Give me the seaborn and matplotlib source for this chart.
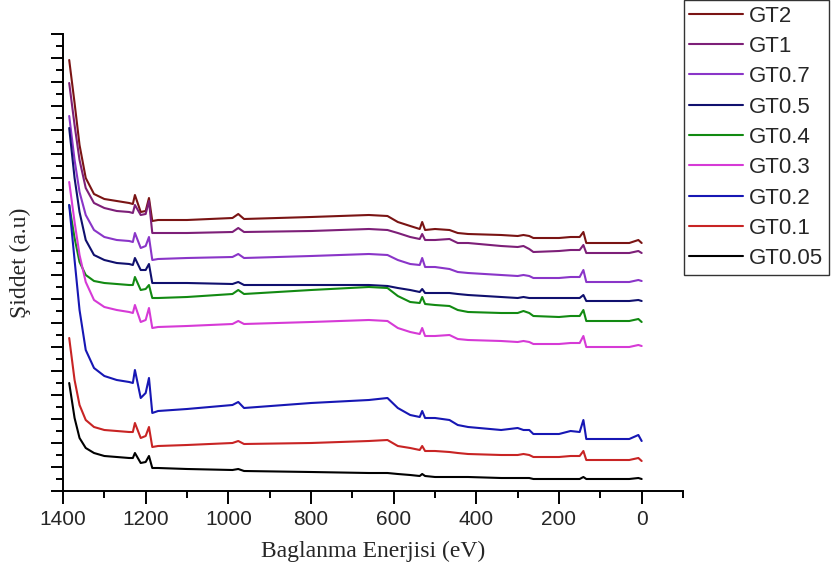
import numpy as np
import pandas as pd
import seaborn as sns
import matplotlib.pyplot as plt
from matplotlib.ticker import MultipleLocator

# binding energy grid (eV) shared by all spectra
energy = [1385, 1372, 1360, 1345, 1325, 1300, 1270, 1240, 1231, 1226,
          1212, 1200, 1192, 1184, 1170, 1100, 990, 976, 962, 800,
          660, 615, 590, 560, 537, 531, 524, 500, 465, 445,
          420, 340, 300, 286, 272, 262, 200, 172, 150, 141,
          134, 100, 30, 8, 0]

# intensities (a.u., already stacked)
gt2 = [431, 388, 346, 313, 297, 292, 290, 288, 287, 296,
       279, 280, 293, 270, 271, 271, 273, 277, 272, 274,
       276, 275, 269, 265, 262, 269, 261, 262, 261, 258,
       257, 256, 255, 256, 255, 253, 253, 254, 254, 259,
       248, 248, 248, 251, 248]
gt1 = [408, 366, 331, 303, 288, 283, 280, 279, 278, 286,
       276, 277, 290, 258, 258, 258, 259, 263, 259, 260,
       262, 261, 258, 254, 252, 257, 251, 251, 252, 248,
       248, 245, 244, 245, 242, 239, 240, 241, 241, 246,
       238, 238, 238, 240, 238]
gt07 = [375, 331, 299, 276, 261, 254, 251, 250, 249, 258,
        243, 245, 254, 231, 232, 233, 234, 237, 233, 235,
        237, 236, 231, 227, 226, 233, 224, 224, 222, 219,
        218, 216, 215, 216, 215, 213, 213, 214, 214, 221,
        209, 209, 209, 211, 210]
gt05 = [363, 313, 279, 251, 236, 231, 228, 227, 226, 233,
        221, 221, 227, 208, 208, 208, 207, 209, 206, 206,
        206, 205, 203, 201, 199, 202, 198, 198, 198, 197,
        196, 194, 193, 194, 193, 193, 193, 193, 193, 196,
        190, 190, 190, 191, 190]
gt04 = [286, 253, 229, 216, 210, 208, 207, 206, 206, 214,
        201, 202, 206, 193, 193, 194, 197, 201, 197, 201,
        204, 203, 195, 189, 188, 194, 187, 186, 185, 181,
        179, 178, 178, 180, 178, 175, 174, 175, 175, 181,
        170, 170, 170, 172, 169]
gt03 = [309, 269, 236, 209, 191, 184, 181, 179, 178, 186,
        169, 171, 183, 163, 164, 165, 167, 170, 167, 169,
        171, 170, 163, 159, 157, 163, 155, 155, 156, 152,
        151, 150, 149, 150, 149, 147, 147, 148, 148, 155,
        144, 144, 144, 146, 145]
gt02 = [286, 231, 181, 141, 123, 115, 111, 109, 108, 121,
        93, 98, 113, 78, 80, 82, 86, 89, 83, 88,
        91, 93, 83, 76, 74, 80, 73, 73, 71, 66,
        64, 61, 63, 61, 61, 57, 57, 60, 59, 71,
        52, 52, 52, 56, 50]
gt01 = [153, 111, 86, 71, 64, 61, 60, 59, 59, 68,
        53, 55, 64, 44, 45, 46, 48, 50, 47, 48,
        50, 51, 45, 43, 41, 45, 40, 40, 39, 38,
        37, 36, 36, 37, 36, 34, 34, 35, 35, 40,
        31, 31, 31, 33, 30]
gt005 = [108, 73, 53, 43, 38, 35, 34, 33, 33, 38,
         28, 29, 35, 23, 23, 22, 21, 22, 20, 19,
         18, 18, 17, 16, 15, 17, 15, 14, 14, 14,
         14, 13, 13, 13, 13, 12, 12, 12, 12, 14,
         12, 12, 12, 13, 12]

samples = ["GT2", "GT1", "GT0.7", "GT0.5", "GT0.4", "GT0.3", "GT0.2", "GT0.1", "GT0.05"]
series = [gt2, gt1, gt07, gt05, gt04, gt03, gt02, gt01, gt005]
colors = ["#7a1414", "#7d1f78", "#8a35c8", "#10106e", "#128a12",
          "#d63ad6", "#1717b4", "#c82424", "#000000"]

df = pd.concat([pd.DataFrame({"E": energy, "I": s, "sample": n})
                for n, s in zip(samples, series)], ignore_index=True)

sns.set_style("ticks")
plt.rcParams['font.family'] = ['Liberation Sans', 'DejaVu Sans']

fig = plt.figure(figsize=(8.32, 5.74), dpi=100)
ax = fig.add_axes([63/832, 1-491/574, 620/832, 457/574])

sns.lineplot(data=df, x="E", y="I", hue="sample", hue_order=samples,
             palette=dict(zip(samples, colors)), linewidth=1.5, ax=ax, sort=False)

ax.set_xlim(1400, -100)
ax.set_ylim(0, 457)
ax.xaxis.set_major_locator(MultipleLocator(200))
ax.xaxis.set_minor_locator(MultipleLocator(100))
ax.yaxis.set_major_locator(MultipleLocator(24.05))
ax.yaxis.set_minor_locator(MultipleLocator(12.025))
ax.tick_params(axis='both', which='major', direction='out', length=9, width=1.4, color='black')
ax.tick_params(axis='both', which='minor', direction='out', length=5, width=1.4, color='black')
ax.tick_params(axis='x', labelsize=15, pad=5)
ax.tick_params(axis='y', labelleft=False)
for sp in ax.spines.values():
    sp.set_linewidth(1.4)
    sp.set_color('black')
sns.despine(ax=ax)

ax.set_xlabel("Baglanma Enerjisi (eV)", family=['Liberation Serif'], fontsize=17, labelpad=8)
ax.set_ylabel("Şiddet (a.u)", family=['Liberation Serif'], fontsize=17, labelpad=14)

handles, labels = ax.get_legend_handles_labels()
leg = ax.legend(handles, labels, loc='upper right', bbox_to_anchor=(829/832, 1.0),
                bbox_transform=fig.transFigure, fontsize=16, frameon=True,
                fancybox=False, edgecolor='black', handlelength=2.4,
                handletextpad=0.3, labelspacing=0.42, borderpad=0.25, borderaxespad=0)
leg.get_frame().set_linewidth(1.0)

fig.savefig("out.png", dpi=100)
